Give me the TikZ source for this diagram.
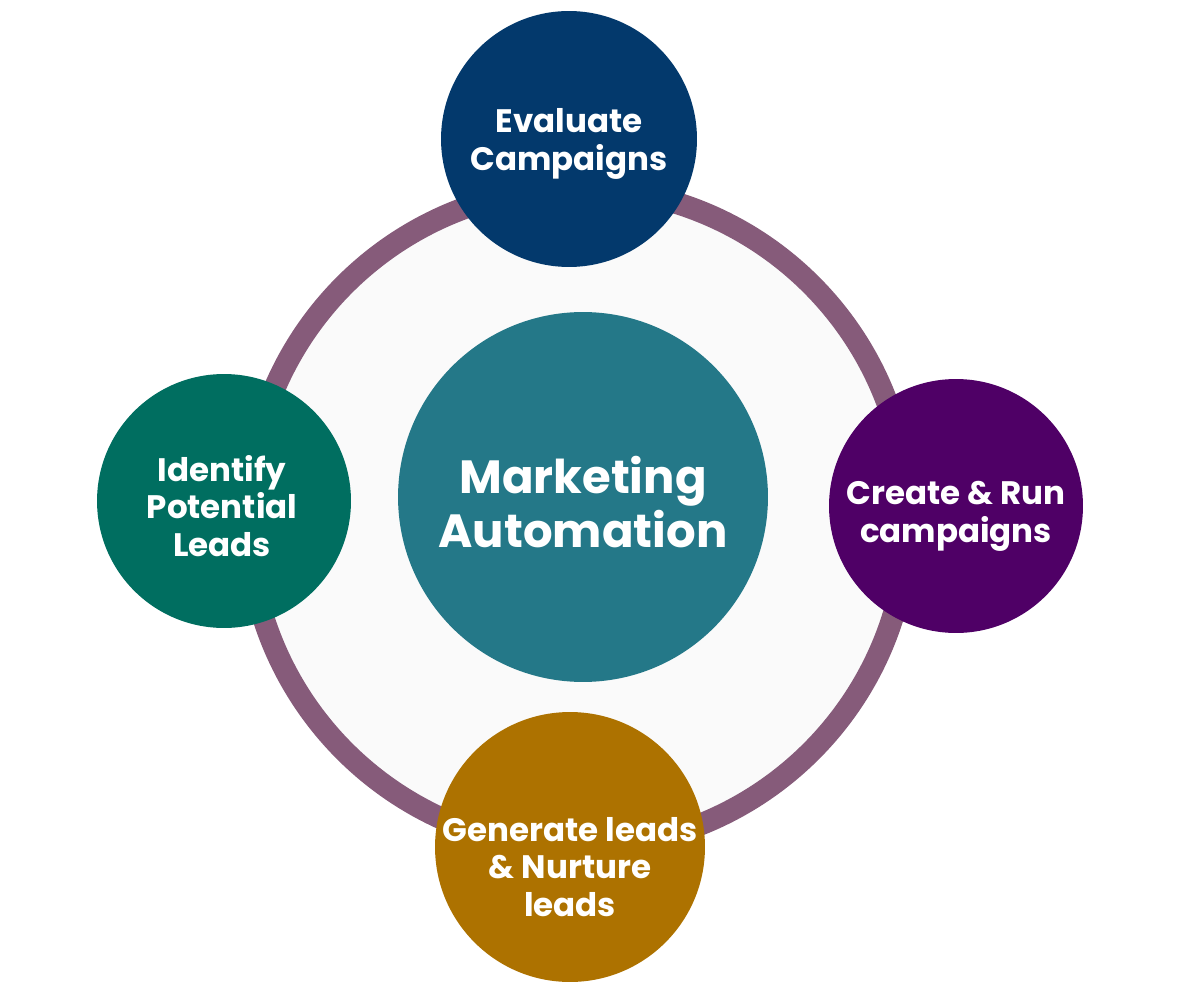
\documentclass[tikz,border=0pt]{standalone}
\usepackage{fontspec}
\setmainfont{Poppins}
\usepackage{tikz}

\definecolor{ringcol}{HTML}{865B7A}
\definecolor{evalcol}{HTML}{03396C}
\definecolor{runcol}{HTML}{4F0066}
\definecolor{leadcol}{HTML}{006E60}
\definecolor{hubcol}{HTML}{247888}
\definecolor{nurturecol}{HTML}{AD7200}

\begin{document}
\begin{tikzpicture}[x=0.02cm,y=-0.02cm,
  hub/.style={circle, fill=hubcol, minimum size=7.4cm, inner sep=0pt},
  hubtext/.style={text=white, align=center,
    font=\fontsize{26.5}{30.5}\selectfont\bfseries},
  stage/.style={circle, minimum size=5.08cm, inner sep=0pt},
  stagetext/.style={text=white, align=center,
    font=\fontsize{18.5}{21.5}\selectfont\bfseries}]
\useasboundingbox (0,0) rectangle (1200,1000);
% cycle ring
\coordinate (c) at (578,518);
\fill[black!2] (c) circle [radius=6.6cm];
\draw[ringcol, line width=0.44cm] (c) circle [radius=6.6cm];
\node[hub] (hub) at (583,497) {};
\node[hubtext] (hubt) at ([yshift=-0.1cm]hub.center) {Marketing\\Automation};
% stages round the ring
\node[stage, fill=evalcol, minimum size=5.12cm] (eval) at (569,139) {};
\node[stage, fill=runcol] (run) at (956,506) {};
\node[stage, fill=nurturecol, minimum size=5.4cm] (nurture) at (570,847) {};
\node[stage, fill=leadcol] (lead) at (224,501) {};
\node[stagetext] (evalt) at ([yshift=-0.1cm]eval.center) {Evaluate\\Campaigns};
\node[stagetext] (runt) at ([yshift=-0.2cm]run.center) {Create \& Run\\campaigns};
\node[stagetext] (nurturet) at ([yshift=-0.4cm]nurture.center) {Generate leads\\\& Nurture\\leads};
\node[stagetext] (leadt) at ([yshift=-0.1cm,xshift=-0.04cm]lead.center) {Identify\\Potential\\Leads};
\end{tikzpicture}
\end{document}
